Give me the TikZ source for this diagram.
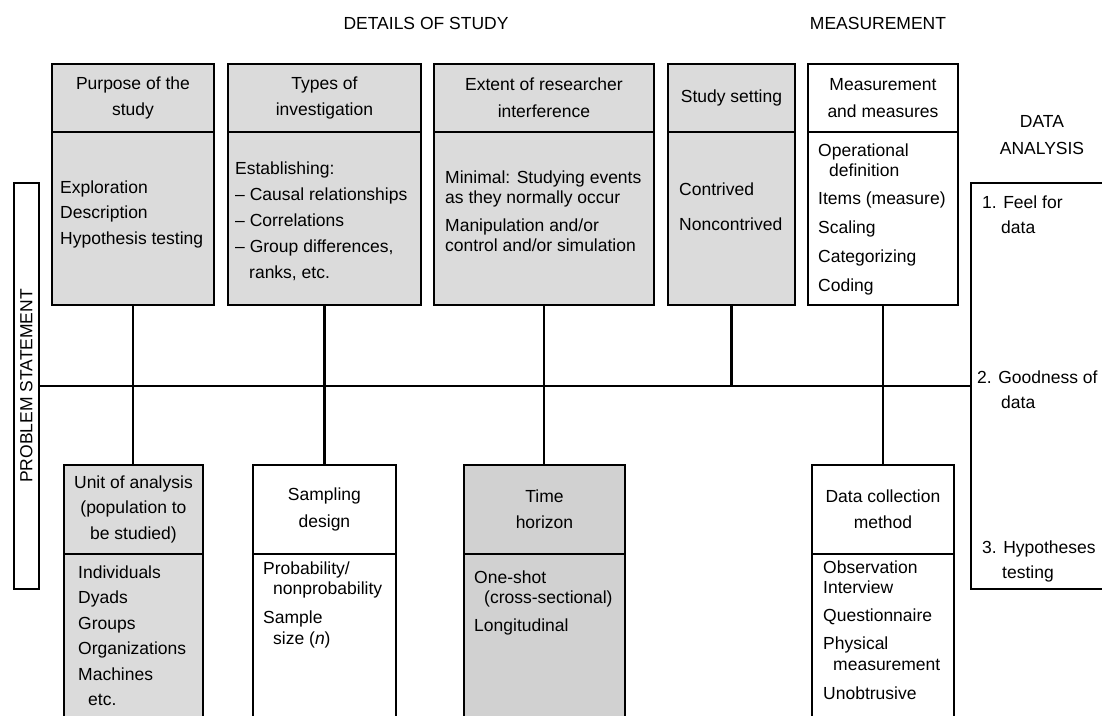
\documentclass[tikz,border=0pt]{standalone}
\usepackage{fontspec}
\setmainfont{Liberation Sans}
\definecolor{shade}{gray}{0.86}
\definecolor{shadeb}{gray}{0.82}
\newcommand\dfont{\fontsize{17.5}{25.5}\selectfont}
\newcommand\hfont{\fontsize{17.5}{26.5}\selectfont}
\begin{document}
\begin{tikzpicture}[x=1pt,y=-1pt,
  box/.style={draw, line width=1.9pt, inner sep=0pt, anchor=north west},
  sh/.style={fill=shade},
  hd/.style={font=\hfont, align=center, inner sep=0pt},
  tx/.style={font=\dfont, align=left, inner sep=0pt, anchor=north west, yshift=17.85pt},
  ttl/.style={font=\dfont, align=center, inner sep=0pt},
  conn/.style={line width=2.4pt}]
\useasboundingbox (0,0) rectangle (1102,715);
\clip (0,0) rectangle (1102,715);
\fill[white] (0,0) rectangle (1102,715);

% titles
\node[ttl] (tDet) at (426,23) {DETAILS OF STUDY};
\node[ttl] (tMeas) at (878,23) {MEASUREMENT};
\node[ttl, font=\hfont] (tDA) at (1042,135) {DATA\\ANALYSIS};

% problem statement and data analysis boxes
\node[box, minimum width=25pt, minimum height=406pt] (PS) at (13,182) {};
\node[font=\dfont, rotate=90, inner sep=0pt] (PSt) at (PS.center) {PROBLEM STATEMENT};
\node[box, minimum width=150pt, minimum height=406pt] (DA) at (970,182) {};

% top boxes
\node[box,sh,minimum width=162pt,minimum height=68pt] (Ah) at (51,63) {};
\node[box,sh,minimum width=162pt,minimum height=173pt] (Ab) at (51,131) {};
\node[box,sh,minimum width=193pt,minimum height=68pt] (Bh) at (227,63) {};
\node[box,sh,minimum width=193pt,minimum height=173pt] (Bb) at (227,131) {};
\node[box,sh,minimum width=220pt,minimum height=68pt] (Ch) at (433,63) {};
\node[box,sh,minimum width=220pt,minimum height=173pt] (Cb) at (433,131) {};
\node[box,sh,minimum width=127pt,minimum height=68pt] (Dh) at (667,63) {};
\node[box,sh,minimum width=127pt,minimum height=173pt] (Db) at (667,131) {};
\node[box,minimum width=150pt,minimum height=68pt] (Eh) at (807,63) {};
\node[box,minimum width=150pt,minimum height=173pt] (Eb) at (807,131) {};

% bottom boxes
\node[box,sh,minimum width=139pt,minimum height=89pt] (Fh) at (63,464) {};
\node[box,sh,minimum width=139pt,minimum height=175pt] (Fb) at (63,553) {};
\node[box,minimum width=143pt,minimum height=89pt] (Gh) at (252,464) {};
\node[box,minimum width=143pt,minimum height=175pt] (Gb) at (252,553) {};
\node[box,fill=shadeb,minimum width=161pt,minimum height=89pt] (Hh) at (463,464) {};
\node[box,fill=shadeb,minimum width=161pt,minimum height=175pt] (Hb) at (463,553) {};
\node[box,minimum width=142pt,minimum height=89pt] (Ih) at (811,464) {};
\node[box,minimum width=142pt,minimum height=175pt] (Ib) at (811,553) {};

% connectors
\draw[conn] (PS.east) -- (DA.west);
\draw[conn] (Ab.south) -- (Ab.south |- Fh.north);
\draw[conn] (Bb.south) -- (Bb.south |- Gh.north);
\draw[conn] (Cb.south) -- (Cb.south |- Hh.north);
\draw[conn] (Db.south) -- (Db.south |- PS.east);
\draw[conn] (Eb.south) -- (Eb.south |- Ih.north);

% headers
\node[hd] (At) at (Ah.center) {Purpose of the\\study};
\node[hd] (Bt) at (Bh.center) {Types of\\investigation};
\node[hd] (Ct) at (Ch.center) {Extent of researcher\\interference};
\node[hd] (Dt) at (Dh.center) {Study setting};
\node[hd] (Et) at (Eh.center) {Measurement\\and measures};
\node[hd, font=\dfont] (Ft) at (Fh.center) {Unit of analysis\\(population to\\be studied)};
\node[hd] (Gt) at (Gh.center) {Sampling\\design};
\node[hd] (Ht) at (Hh.center) {Time\\horizon};
\node[hd] (It) at (Ih.center) {Data collection\\method};

% body texts
\node[tx] (Ax) at (60,193) {\strut Exploration\\Description\\Hypothesis testing};
\node[tx] (Bx) at (235,174) {\strut Establishing:\\[0.5pt]\textendash\ Causal relationships\\[0.5pt]\textendash\ Correlations\\[0.5pt]\textendash\ Group differences,\\[0.5pt]\hspace*{14pt}ranks, etc.};
\node[tx] (Cx) at (445,183) {\strut Minimal: Studying events\\[-5.5pt]as they normally occur\\[2.5pt]Manipulation and/or\\[-5.5pt]control and/or simulation};
\node[tx] (Dx) at (679,195) {\strut Contrived\\[9.5pt]Noncontrived};
\node[tx] (Ex) at (818,156) {\strut Operational\\[-5.5pt]\hspace*{11pt}definition\\[3.2pt]Items (measure)\\[3.2pt]Scaling\\[3.2pt]Categorizing\\[3.2pt]Coding};
\node[tx] (Fx) at (78,578) {\strut Individuals\\Dyads\\Groups\\Organizations\\Machines\\\hspace*{10pt}etc.};
\node[tx] (Gx) at (263,574) {\strut Probability/\\[-5.5pt]\hspace*{10pt}nonprobability\\[3.5pt]Sample\\[-4.5pt]\hspace*{10pt}size (\textit{n})};
\node[tx] (Hx) at (474,583) {\strut One-shot\\[-5.5pt]\hspace*{10pt}(cross-sectional)\\[2.5pt]Longitudinal};
\node[tx] (Ix) at (823,573) {\strut Observation\\[-5.5pt]Interview\\[2.5pt]Questionnaire\\[2.5pt]Physical\\[-4.5pt]\hspace*{10pt}measurement\\[3.5pt]Unobtrusive};

% data analysis texts
\node[tx] (DA1) at (982,208) {\strut 1. Feel for\\\hspace*{19pt}data};
\node[tx] (DA2) at (977,383) {\strut 2. Goodness of\\\hspace*{24pt}data};
\node[tx] (DA3) at (982,553) {\strut 3. Hypotheses\\\hspace*{20pt}testing};
\end{tikzpicture}
\end{document}
